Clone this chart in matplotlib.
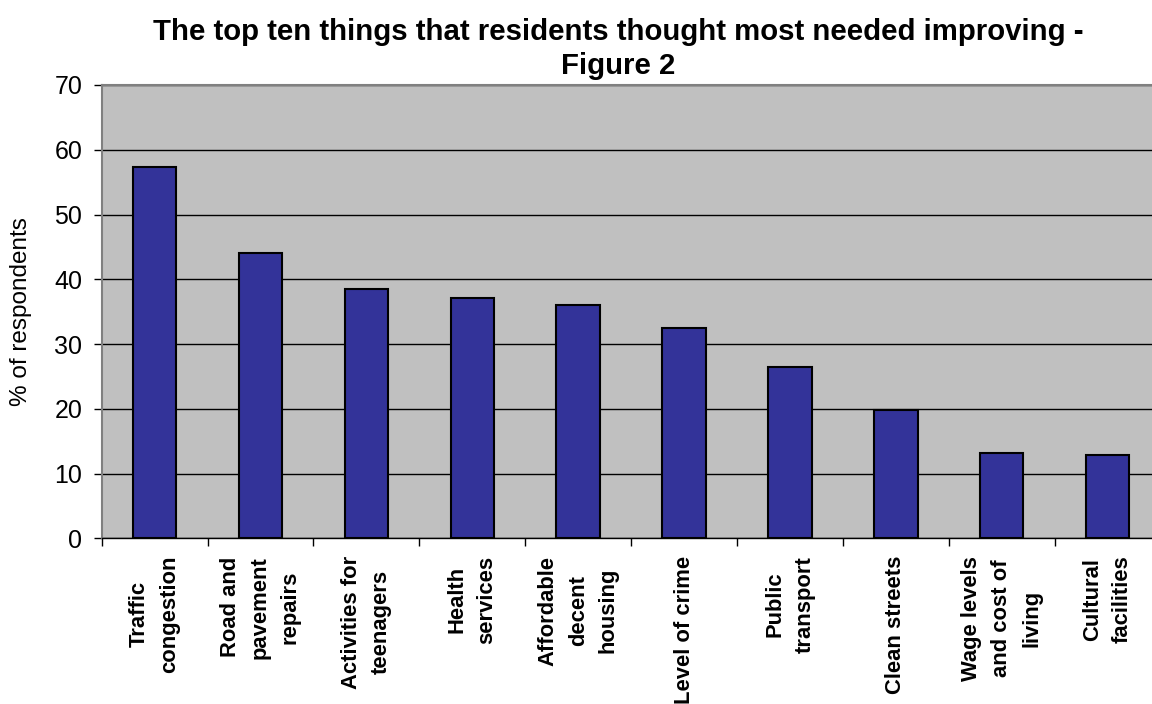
import matplotlib
matplotlib.use("Agg")
import matplotlib.pyplot as plt
import numpy as np

categories = [
    "Traffic\ncongestion",
    "Road and\npavement\nrepairs",
    "Activities for\nteenagers",
    "Health\nservices",
    "Affordable\ndecent\nhousing",
    "Level of crime",
    "Public\ntransport",
    "Clean streets",
    "Wage levels\nand cost of\nliving",
    "Cultural\nfacilities",
]
values = [57.3, 44.0, 38.5, 37.1, 36.1, 32.4, 26.4, 19.8, 13.2, 12.8]
yticks = [0, 10, 20, 30, 40, 50, 60, 70]
title = "The top ten things that residents thought most needed improving -\nFigure 2"
ylabel = "% of respondents"

plt.rcParams['font.family'] = ['Liberation Sans', 'DejaVu Sans']

fig = plt.figure(figsize=(11.52, 7.04), dpi=100)
W, H = 1152, 704
left_px, right_px, top_px, bot_px = 101.6, 1160.6, 85, 538.3
ax = fig.add_axes([left_px / W, (H - bot_px) / H, (right_px - left_px) / W, (bot_px - top_px) / H])
ax.set_facecolor("#C0C0C0")

x = np.arange(len(categories))
ax.bar(x, values, width=0.41, color="#333399", edgecolor="black", linewidth=1.5, zorder=3)

ax.set_xlim(-0.5, len(categories) - 0.5)
ax.set_ylim(0, 70)
ax.set_yticks(yticks)
ax.set_yticklabels([str(t) for t in yticks], fontsize=18)
ax.yaxis.grid(True, color="black", linewidth=1, zorder=1)
ax.set_axisbelow(True)

ax.set_xticks(x)
ax.set_xticklabels(categories, rotation=90, fontsize=15.8, fontweight="bold",
                   multialignment="center", linespacing=1.55)
ax.tick_params(axis="x", which="major", length=0, pad=12.5)
ax.set_xticks(np.arange(-0.5, len(categories) + 0.5, 1), minor=True)
ax.tick_params(axis="x", which="minor", length=5.5, width=1, color="black", direction="out")
ax.tick_params(axis="y", length=6, width=1, color="black", direction="out", pad=8)

for s in ["left", "top"]:
    ax.spines[s].set_color("#808080")
    ax.spines[s].set_linewidth(1.5)
ax.spines["right"].set_visible(False)
ax.spines["bottom"].set_color("black")
ax.spines["bottom"].set_linewidth(1)

ax.set_ylabel(ylabel, fontsize=17.5)
ax.yaxis.set_label_coords((32 - left_px) / (right_px - left_px), 0.5)

fig.text(618 / W, 1 - 18 / H, title, ha="center", va="top", fontsize=21.2,
         fontweight="bold", linespacing=1.28)

fig.savefig("out.png", dpi=100)
